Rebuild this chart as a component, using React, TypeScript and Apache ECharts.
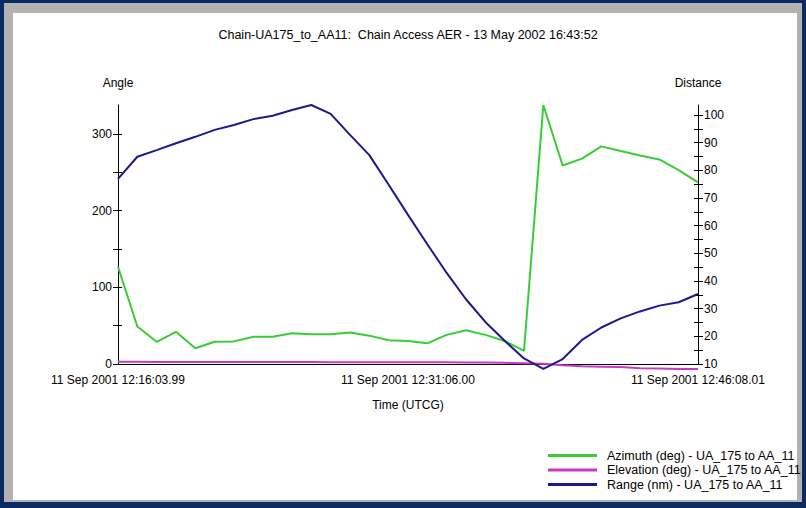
import React, { useEffect, useRef } from "react";
import * as echarts from "echarts";

const titleText = "Chain-UA175_to_AA11:  Chain Access AER - 13 May 2002 16:43:52";
const xAxisName = "Time (UTCG)";
const leftAxisName = "Angle";
const rightAxisName = "Distance";

// seconds after 11 Sep 2001 12:16:03.99
const timeSeconds = [
  0, 60.13, 120.27, 180.4, 240.54, 300.67, 360.8, 420.94, 481.07, 541.21, 601.34,
  661.47, 721.61, 781.74, 841.88, 902.01, 962.14, 1022.28, 1082.41, 1142.55, 1202.68,
  1262.81, 1322.95, 1383.08, 1443.22, 1503.35, 1563.48, 1623.62, 1683.75, 1743.89, 1804.02,
];

const azimuthDeg = [
  127, 49, 29, 42, 20.5, 29, 29.5, 35.6, 35.6, 40, 38.7,
  38.7, 41, 37, 31, 30, 27, 38, 44, 38, 30,
  17, 338, 259, 268, 284, 278, 272, 267, 253, 237,
];

const elevationDeg = [
  2.8, 2.8, 2.7, 2.7, 2.6, 2.6, 2.6, 2.5, 2.5, 2.5, 2.5,
  2.4, 2.4, 2.4, 2.3, 2.3, 2.2, 2.2, 2.0, 1.8, 1.5,
  1.0, 0.3, -1.5, -3, -3.5, -4, -5.5, -6, -6.5, -6.5,
];

const rangeNm = [
  76.9, 84.9, 87.3, 89.8, 92.1, 94.6, 96.4, 98.5, 99.7, 101.8, 103.6,
  100.4, 92.8, 85.5, 74.8, 63.9, 53.3, 42.9, 33.4, 25.2, 18.4,
  12.0, 8.2, 11.8, 18.7, 23.2, 26.5, 29.0, 31.1, 32.3, 35.3,
];

const xTickLabels = ["11 Sep 2001 12:16:03.99", "11 Sep 2001 12:31:06.00", "11 Sep 2001 12:46:08.01"];
const angleTickValues = [0, 50, 100, 150, 200, 250, 300];
const angleLabelValues = [0, 100, 200, 300];
const distanceTickValues = [10, 15, 20, 25, 30, 35, 40, 45, 50, 55, 60, 65, 70, 75, 80, 85, 90, 95, 100];
const distanceLabelValues = [10, 20, 30, 40, 50, 60, 70, 80, 90, 100];

const seriesNames = [
  "Azimuth (deg) - UA_175 to AA_11",
  "Elevation (deg) - UA_175 to AA_11",
  "Range (nm) - UA_175 to AA_11",
];
const seriesColors = ["#38cc38", "#c63ac6", "#1a1a8e"];

const FONT = "'Liberation Sans', Arial, sans-serif";

export default function App() {
  const ref = useRef<HTMLDivElement>(null);

  useEffect(() => {
    if (!ref.current) return;
    const chart = echarts.init(ref.current, undefined, { renderer: "svg" });
    const pair = (vals: number[]) => timeSeconds.map((t, i) => [t, vals[i]]);
    const textBase = { fontSize: 12, color: "#000", fontFamily: FONT };
    const axisLine = { show: true, lineStyle: { color: "#000", width: 1 } };

    chart.setOption({
      animation: false,
      backgroundColor: "transparent",
      textStyle: { fontFamily: FONT },
      title: {
        text: titleText,
        left: 403,
        top: 23,
        textAlign: "center",
        textStyle: { ...textBase, fontSize: 12.5, fontWeight: "normal" },
      },
      grid: { left: 118, right: 108, top: 105, height: 259, containLabel: false },
      legend: {
        orient: "vertical",
        left: 543,
        top: 444,
        icon: "rect",
        itemWidth: 49,
        itemHeight: 3,
        itemGap: 1.5,
        data: seriesNames,
        textStyle: { ...textBase, fontSize: 12.5, padding: [0, 0, 0, 5] },
      },
      xAxis: {
        type: "value",
        min: 0,
        max: 1804.02,
        interval: 902.01,
        axisLine,
        axisTick: { show: false },
        splitLine: { show: false },
        axisLabel: {
          ...textBase,
          margin: 10,
          showMinLabel: true,
          showMaxLabel: true,
          formatter: (v: number) => xTickLabels[Math.round(v / 902.01)] ?? "",
        },
        name: xAxisName,
        nameLocation: "middle",
        nameGap: 35,
        nameTextStyle: textBase,
      },
      yAxis: [
        {
          type: "value",
          position: "left",
          min: 0,
          max: 338,
          interval: 50,
          axisLine,
          axisTick: { show: true, length: 5, customValues: angleTickValues, lineStyle: { color: "#000" } },
          axisLabel: {
            ...textBase,
            margin: 6,
            customValues: angleLabelValues,
            formatter: (v: number) => (v % 100 === 0 ? String(v) : ""),
          },
          splitLine: { show: false },
          name: leftAxisName,
          nameLocation: "end",
          nameGap: 16,
          nameTextStyle: { ...textBase, align: "center" },
        },
        {
          type: "value",
          position: "right",
          min: 10,
          max: 103.6,
          interval: 5,
          axisLine,
          axisTick: { show: true, length: 5, customValues: distanceTickValues, lineStyle: { color: "#000" } },
          axisLabel: {
            ...textBase,
            margin: 6,
            customValues: distanceLabelValues,
            formatter: (v: number) => (v % 10 === 0 ? String(v) : ""),
          },
          splitLine: { show: false },
          name: rightAxisName,
          nameLocation: "end",
          nameGap: 16,
          nameTextStyle: { ...textBase, align: "center" },
        },
        {
          type: "value",
          position: "left",
          min: 0,
          max: 338,
          interval: 50,
          axisLine: { show: false },
          axisTick: { show: true, inside: true, length: 4, customValues: angleTickValues, lineStyle: { color: "#000" } },
          axisLabel: { show: false },
          splitLine: { show: false },
        },
        {
          type: "value",
          position: "right",
          min: 10,
          max: 103.6,
          interval: 5,
          axisLine: { show: false },
          axisTick: { show: true, inside: true, length: 4, customValues: distanceTickValues, lineStyle: { color: "#000" } },
          axisLabel: { show: false },
          splitLine: { show: false },
        },
      ],
      series: [
        {
          name: seriesNames[0],
          type: "line",
          yAxisIndex: 0,
          data: pair(azimuthDeg),
          symbol: "none",
          clip: false,
          color: seriesColors[0],
          lineStyle: { width: 2, color: seriesColors[0] },
        },
        {
          name: seriesNames[1],
          type: "line",
          yAxisIndex: 0,
          data: pair(elevationDeg),
          symbol: "none",
          clip: false,
          color: seriesColors[1],
          lineStyle: { width: 2, color: seriesColors[1] },
        },
        {
          name: seriesNames[2],
          type: "line",
          yAxisIndex: 1,
          data: pair(rangeNm),
          symbol: "none",
          clip: false,
          color: seriesColors[2],
          lineStyle: { width: 2, color: seriesColors[2] },
        },
      ],
    });
    return () => chart.dispose();
  }, []);

  return (
    <div style={{ position: "fixed", left: 0, top: 0, width: 806, height: 508, background: "#0b2a62", overflow: "hidden" }}>
      <div style={{ position: "absolute", left: 4, top: 3, width: 798, height: 499, background: "#b2b2b2" }} />
      <div style={{ position: "absolute", left: 13, top: 13, width: 784, height: 487, background: "#ffffff" }} />
      <div ref={ref} style={{ position: "absolute", left: 0, top: 0, width: 806, height: 508 }} />
    </div>
  );
}
